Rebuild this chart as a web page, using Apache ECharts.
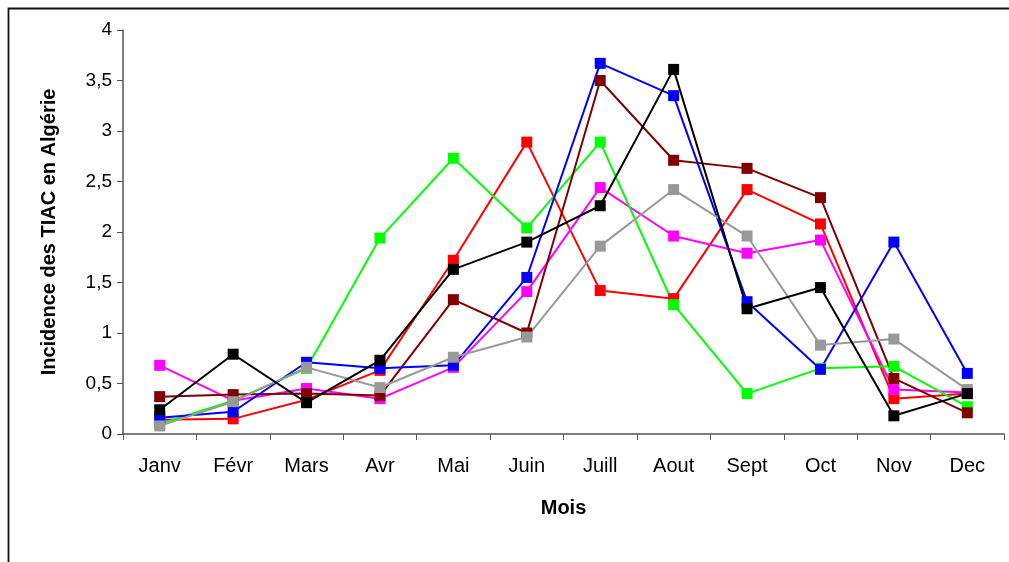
<!DOCTYPE html>
<html>
<head>
<meta charset="utf-8">
<script src="https://cdn.jsdelivr.net/npm/echarts@6/dist/echarts.min.js"></script>
<style>html,body{margin:0;padding:0;background:#fff}#c{width:1009px;height:562px}</style>
</head>
<body>
<div id="c"></div>
<script>
var months = ['Janv','Févr','Mars','Avr','Mai','Juin','Juill','Aout','Sept','Oct','Nov','Dec'];
var yTicks = [0, 0.5, 1, 1.5, 2, 2.5, 3, 3.5, 4];

var redVals     = [0.14, 0.15, 0.34, 0.63, 1.72, 2.89, 1.42, 1.34, 2.42, 2.08, 0.35, 0.40];
var magentaVals = [0.68, 0.33, 0.45, 0.35, 0.66, 1.41, 2.44, 1.96, 1.79, 1.92, 0.44, 0.41];
var greenVals   = [0.10, 0.33, 0.65, 1.94, 2.73, 2.04, 2.89, 1.28, 0.40, 0.65, 0.67, 0.27];
var darkRedVals = [0.37, 0.39, 0.40, 0.38, 1.33, 1.00, 3.50, 2.71, 2.63, 2.34, 0.55, 0.21];
var blueVals    = [0.16, 0.22, 0.71, 0.65, 0.68, 1.55, 3.67, 3.35, 1.31, 0.64, 1.90, 0.60];
var grayVals    = [0.08, 0.32, 0.66, 0.46, 0.76, 0.96, 1.86, 2.42, 1.96, 0.88, 0.94, 0.44];
var blackVals   = [0.24, 0.79, 0.31, 0.73, 1.63, 1.90, 2.26, 3.61, 1.24, 1.45, 0.18, 0.40];

var seriesDefs = [
  ['rouge', redVals, '#FF0000'],
  ['magenta', magentaVals, '#FF00FF'],
  ['vert', greenVals, '#00FF00'],
  ['bordeaux', darkRedVals, '#800000'],
  ['bleu', blueVals, '#0000FF'],
  ['gris', grayVals, '#999999'],
  ['noir', blackVals, '#000000']
];

var chart = echarts.init(document.getElementById('c'), null, {renderer: 'canvas'});
var font = "'Liberation Sans', Arial, sans-serif";
chart.setOption({
  animation: false,
  graphic: [{
    type: 'rect',
    shape: {x: 8.5, y: 8.5, width: 1200, height: 700},
    style: {fill: 'none', stroke: '#111', lineWidth: 1.8},
    silent: true
  }],
  grid: {left: 123, right: 5, top: 30, bottom: 128, containLabel: false},
  xAxis: {
    type: 'category',
    data: months,
    boundaryGap: true,
    name: 'Mois',
    nameLocation: 'middle',
    nameGap: 64,
    nameTextStyle: {fontFamily: font, fontSize: 20, fontWeight: 'bold', color: '#000'},
    axisLine: {lineStyle: {color: '#555', width: 1.5}},
    axisTick: {show: true, alignWithLabel: false, length: 6, lineStyle: {color: '#555'}},
    axisLabel: {fontFamily: font, fontSize: 20, color: '#000', margin: 22, interval: 0},
    splitLine: {show: false}
  },
  yAxis: {
    type: 'value',
    min: 0, max: 4, interval: 0.5,
    name: 'Incidence des TIAC en Algérie',
    nameLocation: 'middle',
    nameGap: 64,
    nameRotate: 90,
    nameTextStyle: {fontFamily: font, fontSize: 20, fontWeight: 'bold', color: '#000'},
    axisLine: {show: true, lineStyle: {color: '#555', width: 1.5}},
    axisTick: {show: true, length: 6, lineStyle: {color: '#555'}},
    axisLabel: {fontFamily: font, fontSize: 19, color: '#000', margin: 11,
      formatter: function (v) { return String(v).replace('.', ','); }},
    splitLine: {show: false}
  },
  series: seriesDefs.map(function (d) {
    return {
      name: d[0], type: 'line', data: d[1],
      symbol: 'rect', symbolSize: 11,
      lineStyle: {color: d[2], width: 2},
      itemStyle: {color: d[2]},
      emphasis: {disabled: true}
    };
  })
});
</script>
</body>
</html>
